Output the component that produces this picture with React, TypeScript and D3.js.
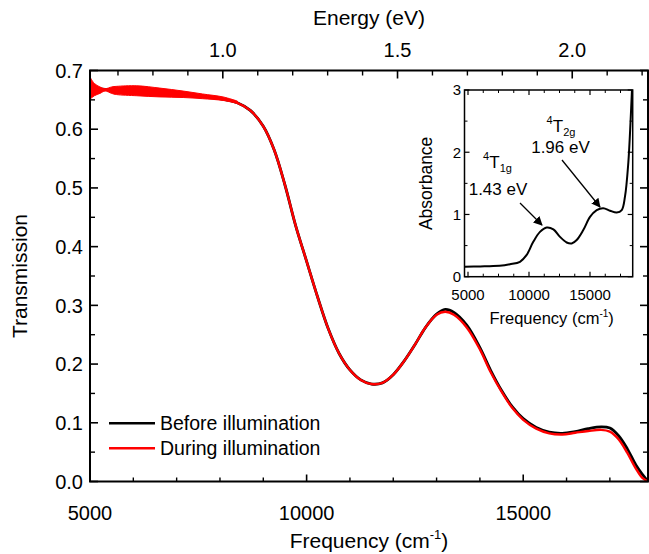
import React from "react";
import * as d3 from "d3";

// Main chart: transmission vs frequency (cm^-1)
const freq = [5000, 5500, 6000, 6500, 7000, 7500, 8000, 8400, 8700, 9000, 9250, 9500, 9750, 10000, 10250, 10500, 10750, 11000, 11250, 11500, 11750, 12000, 12250, 12500, 12750, 13000, 13200, 13400, 13700, 14000, 14250, 14500, 14750, 15000, 15300, 15600, 15900, 16200, 16500, 16800, 17000, 17200, 17400, 17600, 17750, 17880];
const before = [0.670, 0.667, 0.666, 0.664, 0.661, 0.657, 0.652, 0.645, 0.632, 0.605, 0.565, 0.505, 0.435, 0.375, 0.315, 0.26, 0.218, 0.19, 0.173, 0.166, 0.168, 0.182, 0.205, 0.233, 0.263, 0.285, 0.293, 0.288, 0.266, 0.228, 0.189, 0.155, 0.127, 0.107, 0.092, 0.084, 0.082, 0.085, 0.090, 0.093, 0.091, 0.078, 0.056, 0.028, 0.012, 0.0];
const during = [0.670, 0.667, 0.666, 0.664, 0.661, 0.657, 0.652, 0.645, 0.632, 0.605, 0.565, 0.505, 0.435, 0.375, 0.315, 0.26, 0.218, 0.19, 0.173, 0.166, 0.168, 0.182, 0.205, 0.233, 0.263, 0.284, 0.289, 0.284, 0.262, 0.225, 0.186, 0.153, 0.125, 0.105, 0.090, 0.082, 0.080, 0.083, 0.086, 0.088, 0.085, 0.072, 0.049, 0.022, 0.006, 0.0];

// Interference-fringe envelope of the "during" trace at low frequency
const fringeFreq = [5000, 5100, 5230, 5350, 5500, 5615, 6080, 6615, 7150, 7600, 8070, 8400];
const fringeUpper = [0.689, 0.678, 0.672, 0.669, 0.672, 0.673, 0.674, 0.670, 0.665, 0.660, 0.655, 0.648];
const fringeLower = [0.651, 0.657, 0.661, 0.665, 0.661, 0.659, 0.657, 0.655, 0.654, 0.652, 0.649, 0.644];

const xTicks = [5000, 10000, 15000];
const yTicks = [0, 0.1, 0.2, 0.3, 0.4, 0.5, 0.6, 0.7];
const eTicks = [1.0, 1.5, 2.0];

// Inset: absorbance
const insFreq = [4750, 6000, 7070, 8000, 8440, 9260, 9810, 10350, 10900, 11450, 12000, 12540, 13090, 13500, 13910, 14450, 15000, 15550, 16090, 16640, 17190, 17600, 17870, 18140, 18330, 18440];
const insAbs = [0.16, 0.165, 0.17, 0.185, 0.20, 0.24, 0.35, 0.56, 0.72, 0.79, 0.76, 0.64, 0.55, 0.535, 0.59, 0.75, 0.96, 1.07, 1.10, 1.06, 1.03, 1.07, 1.29, 1.83, 2.52, 3.0];
const insXTicks = [5000, 10000, 15000];
const insYTicks = [0, 1, 2, 3];

const FONT = "'Liberation Sans', Arial, Helvetica, sans-serif";
const CM_PER_EV = 8065.54;

export default function App() {
  const W = 649, H = 554;
  const x = d3.scaleLinear().domain([5000, 17880]).range([90, 648]);
  const y = d3.scaleLinear().domain([0, 0.7]).range([481.5, 70.5]);

  const line = d3.line<number>().x((_, i) => x(freq[i])).curve(d3.curveCatmullRom);
  const pathBefore = line.y((v) => y(v))(before) as string;
  const pathDuring = line.y((v) => y(v))(during) as string;
  const band = d3.area<number>()
    .x((_, i) => x(fringeFreq[i]))
    .y0((_, i) => y(fringeLower[i]))
    .y1((v) => y(v))
    .curve(d3.curveCatmullRom)(fringeUpper) as string;

  const xMinor = d3.range(6000, 17881, 1000);
  const yMinor = d3.range(0.05, 0.7, 0.1);
  const eMinor = d3.range(0.7, 2.21, 0.1);

  // inset
  const ix = d3.scaleLinear().domain([4713, 18500]).range([464.5, 632.7]);
  const iy = d3.scaleLinear().domain([0, 3]).range([276.7, 90]);
  const insPath = d3.line<number>().x((_, i) => ix(insFreq[i])).y((v) => iy(v)).curve(d3.curveCatmullRom)(insAbs) as string;
  const insXMinor = d3.range(6250, 18500, 1250);
  const insYMinor = [0.5, 1.5, 2.5];

  const [x0, x1] = x.range();
  const [yb, yt] = y.range();
  const [ix0, ix1] = ix.range();
  const [iyb, iyt] = iy.range();

  return (
    <svg width={W} height={H} style={{ position: "absolute", left: 0, top: 0, background: "#fff" }} fontFamily={FONT}>
      <defs>
        <marker id="ah" viewBox="0 0 10 10" refX="9" refY="5" markerWidth="7" markerHeight="7" orient="auto">
          <path d="M0,0 L10,5 L0,10 z" fill="#000" />
        </marker>
        <clipPath id="clipMain"><rect x={x0} y={yt} width={x1 - x0} height={yb - yt} /></clipPath>
      </defs>

      {/* curves */}
      <g clipPath="url(#clipMain)">
        <path d={pathBefore} fill="none" stroke="#000" strokeWidth={2.8} />
        <path d={band} fill="#ff0000" stroke="#ff0000" strokeWidth={1} />
        <path d={pathDuring} fill="none" stroke="#ff0000" strokeWidth={2.4} />
      </g>

      {/* frame */}
      <rect x={x0} y={yt} width={x1 - x0} height={yb - yt} fill="none" stroke="#000" strokeWidth={2} />

      {/* bottom ticks */}
      {xTicks.map((t) => (
        <g key={"xt" + t}>
          <line x1={x(t)} x2={x(t)} y1={yb} y2={yb - 7} stroke="#000" strokeWidth={1.6} />
          <text x={x(t)} y={520} fontSize={20} textAnchor="middle">{t}</text>
        </g>
      ))}
      {xMinor.filter((t) => !xTicks.includes(t)).map((t) => (
        <line key={"xm" + t} x1={x(t)} x2={x(t)} y1={yb} y2={yb - 4} stroke="#000" strokeWidth={1.4} />
      ))}

      {/* left & right ticks */}
      {yTicks.map((t) => (
        <g key={"yt" + t}>
          <line x1={x0} x2={x0 + 8} y1={y(t)} y2={y(t)} stroke="#000" strokeWidth={1.6} />
          <line x1={x1} x2={x1 - 8} y1={y(t)} y2={y(t)} stroke="#000" strokeWidth={1.6} />
          <text x={83} y={y(t)} dy="0.36em" fontSize={20} textAnchor="end">{t.toFixed(1)}</text>
        </g>
      ))}
      {yMinor.map((t) => (
        <g key={"ym" + t}>
          <line x1={x0} x2={x0 + 5} y1={y(t)} y2={y(t)} stroke="#000" strokeWidth={1.4} />
          <line x1={x1} x2={x1 - 5} y1={y(t)} y2={y(t)} stroke="#000" strokeWidth={1.4} />
        </g>
      ))}

      {/* top energy axis */}
      {eTicks.map((e) => (
        <g key={"et" + e}>
          <line x1={x(e * CM_PER_EV)} x2={x(e * CM_PER_EV)} y1={yt} y2={yt + 8} stroke="#000" strokeWidth={1.6} />
          <text x={x(e * CM_PER_EV)} y={56.5} fontSize={20} textAnchor="middle">{e.toFixed(1)}</text>
        </g>
      ))}
      {eMinor.filter((e) => !eTicks.some((m) => Math.abs(m - e) < 1e-6)).map((e) => (
        <line key={"em" + e} x1={x(e * CM_PER_EV)} x2={x(e * CM_PER_EV)} y1={yt} y2={yt + 5} stroke="#000" strokeWidth={1.4} />
      ))}

      {/* axis titles */}
      <text x={(x0 + x1) / 2} y={25} fontSize={21} textAnchor="middle">Energy (eV)</text>
      <text x={(x0 + x1) / 2} y={548} fontSize={21} textAnchor="middle">
        Frequency (cm<tspan fontSize={13} dy={-9}>-1</tspan><tspan dy={9}>)</tspan>
      </text>
      <text transform={`translate(27,${(yt + yb) / 2}) rotate(-90)`} fontSize={21} textAnchor="middle">Transmission</text>

      {/* legend */}
      <line x1={109} x2={155} y1={423.3} y2={423.3} stroke="#000" strokeWidth={2.4} />
      <text x={160} y={423.3} dy="0.35em" fontSize={19.5}>Before illumination</text>
      <line x1={109} x2={155} y1={448.3} y2={448.3} stroke="#ff0000" strokeWidth={2.4} />
      <text x={160} y={448.3} dy="0.35em" fontSize={19.5}>During illumination</text>

      {/* inset */}
      <rect x={ix0} y={iyt} width={ix1 - ix0} height={iyb - iyt} fill="#fff" stroke="none" />
      <path d={insPath} fill="none" stroke="#000" strokeWidth={2} />
      <rect x={ix0} y={iyt} width={ix1 - ix0} height={iyb - iyt} fill="none" stroke="#000" strokeWidth={1.5} />
      {insXTicks.map((t) => (
        <g key={"ixt" + t}>
          <line x1={ix(t)} x2={ix(t)} y1={iyb} y2={iyb - 5} stroke="#000" strokeWidth={1.2} />
          <line x1={ix(t)} x2={ix(t)} y1={iyt} y2={iyt + 5} stroke="#000" strokeWidth={1.2} />
          <text x={ix(t)} y={300} fontSize={15} textAnchor="middle">{t}</text>
        </g>
      ))}
      {insXMinor.filter((t) => !insXTicks.includes(t)).map((t) => (
        <g key={"ixm" + t}>
          <line x1={ix(t)} x2={ix(t)} y1={iyb} y2={iyb - 3} stroke="#000" strokeWidth={1} />
          <line x1={ix(t)} x2={ix(t)} y1={iyt} y2={iyt + 3} stroke="#000" strokeWidth={1} />
        </g>
      ))}
      {insYTicks.map((t) => (
        <g key={"iyt" + t}>
          <line x1={ix0} x2={ix0 + 5} y1={iy(t)} y2={iy(t)} stroke="#000" strokeWidth={1.2} />
          <line x1={ix1} x2={ix1 - 5} y1={iy(t)} y2={iy(t)} stroke="#000" strokeWidth={1.2} />
          <text x={461} y={iy(t)} dy="0.36em" fontSize={15} textAnchor="end">{t}</text>
        </g>
      ))}
      {insYMinor.map((t) => (
        <g key={"iym" + t}>
          <line x1={ix0} x2={ix0 + 3} y1={iy(t)} y2={iy(t)} stroke="#000" strokeWidth={1} />
          <line x1={ix1} x2={ix1 - 3} y1={iy(t)} y2={iy(t)} stroke="#000" strokeWidth={1} />
        </g>
      ))}
      <text x={(ix0 + ix1) / 2 + 3} y={324} fontSize={16.5} textAnchor="middle">
        Frequency (cm<tspan fontSize={10} dy={-7}>-1</tspan><tspan dy={7}>)</tspan>
      </text>
      <text transform={`translate(432,${(iyt + iyb) / 2}) rotate(-90)`} fontSize={17.5} textAnchor="middle">Absorbance</text>

      {/* annotations */}
      <text x={ix(7418)} y={iy(1.74)} fontSize={17} textAnchor="middle">
        <tspan fontSize={11} dy={-8}>4</tspan><tspan dy={8}>T</tspan><tspan fontSize={11} dy={4}>1g</tspan>
      </text>
      <text x={ix(7459)} y={iy(1.313)} fontSize={17} textAnchor="middle">1.43 eV</text>
      <text x={ix(12623)} y={iy(2.33)} fontSize={17} textAnchor="middle">
        <tspan fontSize={11} dy={-8}>4</tspan><tspan dy={8}>T</tspan><tspan fontSize={11} dy={4}>2g</tspan>
      </text>
      <text x={ix(12582)} y={iy(1.98)} fontSize={17} textAnchor="middle">1.96 eV</text>
      <line x1={ix(9262)} y1={iy(1.184)} x2={ix(11066)} y2={iy(0.831)} stroke="#000" strokeWidth={1.3} markerEnd="url(#ah)" />
      <line x1={ix(12705)} y1={iy(1.875)} x2={ix(15820)} y2={iy(1.12)} stroke="#000" strokeWidth={1.3} markerEnd="url(#ah)" />
    </svg>
  );
}
